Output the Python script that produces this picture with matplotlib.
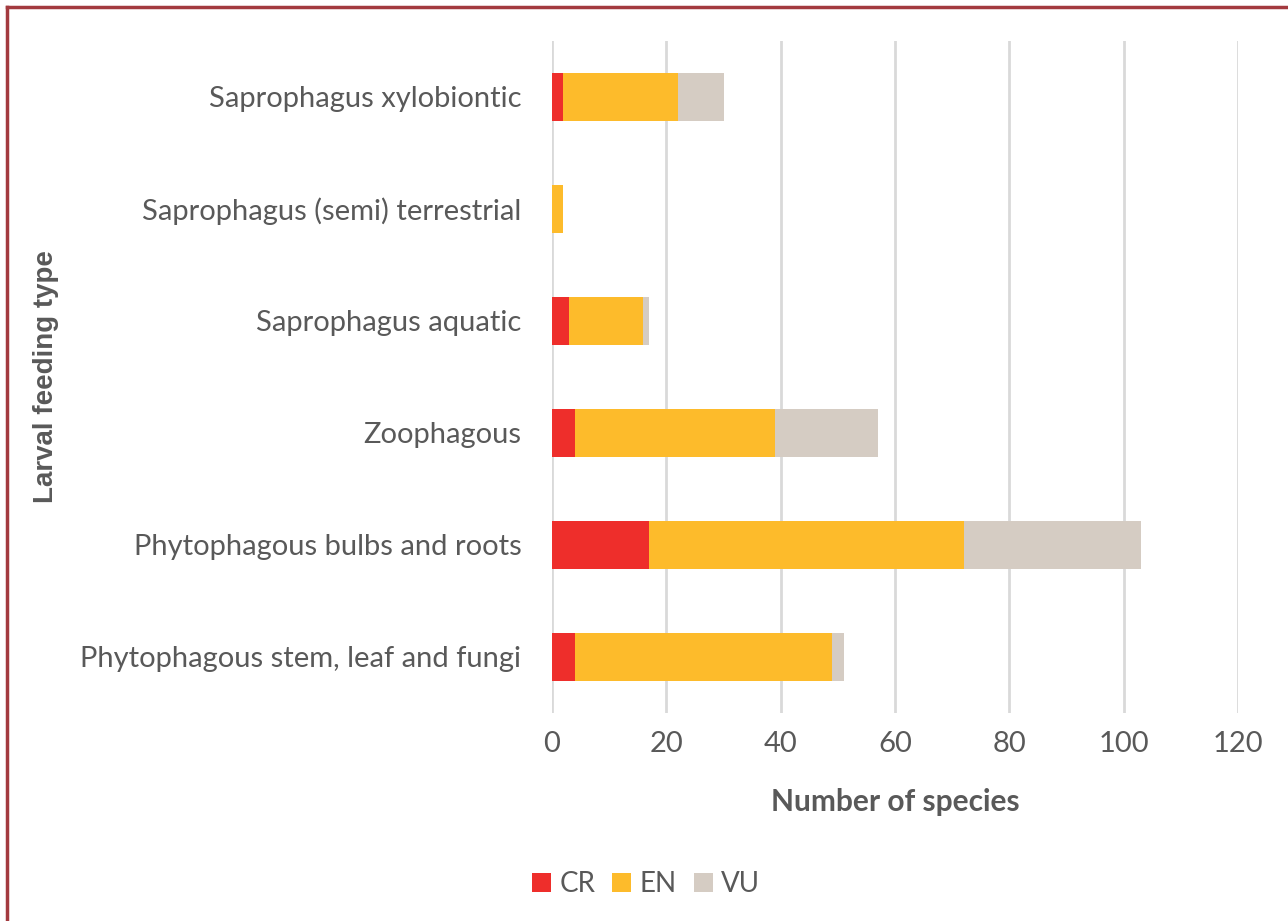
import numpy as np
import matplotlib.pyplot as plt
from matplotlib.lines import Line2D

# larval feeding types, bottom to top as drawn
categories = ["Phytophagous stem, leaf and fungi",
              "Phytophagous bulbs and roots",
              "Zoophagous",
              "Saprophagus aquatic",
              "Saprophagus (semi) terrestrial",
              "Saprophagus xylobiontic"]
cr = [4, 17, 4, 3, 0, 2]
en = [45, 55, 35, 13, 2, 20]
vu = [2, 31, 18, 1, 0, 8]
xticks = [0, 20, 40, 60, 80, 100, 120]

txt = "#595959"
plt.rcParams['font.family'] = ['Lato', 'DejaVu Sans']

fig = plt.figure(figsize=(12.88, 9.21), dpi=100)
ax = fig.add_axes([552/1288, 1 - 713/921, (1238-552)/1288, (713-41)/921])

y = np.arange(len(categories))
h = 0.42
cr = np.array(cr); en = np.array(en); vu = np.array(vu)
ax.barh(y, cr, h, color="#EE2E2B", label="CR", zorder=3)
ax.barh(y, en, h, left=cr, color="#FDBB2B", label="EN", zorder=3)
ax.barh(y, vu, h, left=cr + en, color="#D5CCC3", label="VU", zorder=3)

ax.set_xlim(0, 120)
ax.set_ylim(-0.5, len(categories) - 0.5)
ax.set_xticks(xticks)
ax.set_yticks(y)
ax.set_yticklabels(categories)
ax.tick_params(axis='both', length=0, labelsize=21, labelcolor=txt)
ax.tick_params(axis='y', pad=22)
ax.tick_params(axis='x', pad=13)
ax.grid(axis='x', color="#D9D9D9", linewidth=2, zorder=0)
for s in ax.spines.values():
    s.set_visible(False)

ax.set_xlabel("Number of species", fontsize=21.5, fontweight='bold', color=txt, labelpad=22)
fig.text(46/1288, 1 - 377/921, "Larval feeding type", rotation=90, fontsize=20,
         fontweight='bold', color=txt, family='Liberation Sans', ha='center', va='center')

fig.legend(loc='center', bbox_to_anchor=(646/1288, 1 - 884/921), ncol=3, frameon=False,
           fontsize=20, labelcolor=txt, handlelength=0.7, handleheight=0.7,
           handletextpad=0.3, columnspacing=0.6)

# border of the original frame (only top and left edges visible)
fig.add_artist(Line2D([7/1288, 7/1288], [0, 1 - 7/921], transform=fig.transFigure,
                      color="#A33A3F", linewidth=2.5))
fig.add_artist(Line2D([7/1288, 1], [1 - 7/921, 1 - 7/921], transform=fig.transFigure,
                      color="#A33A3F", linewidth=2.5))

fig.savefig("out.png", dpi=100)
